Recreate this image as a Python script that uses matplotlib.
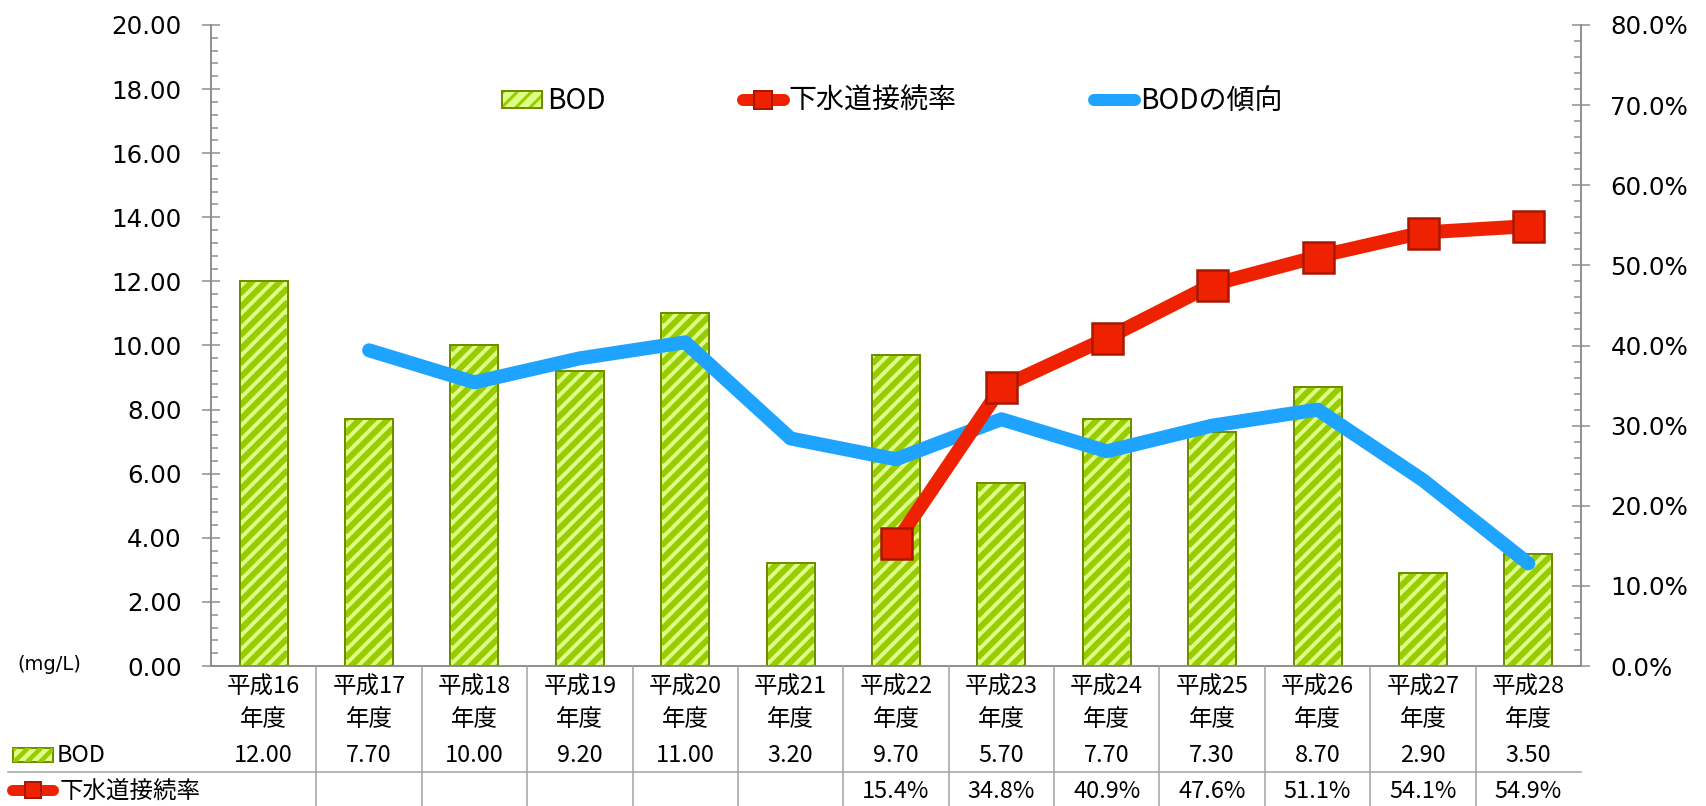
#!/usr/bin/env python3
"""BOD and sewer connection rate chart with data table."""

import matplotlib
matplotlib.use("Agg")
import numpy as np
import matplotlib.pyplot as plt
from matplotlib.patches import Rectangle, Patch
from matplotlib.lines import Line2D
from matplotlib.collections import LineCollection
from matplotlib.legend_handler import HandlerTuple
from matplotlib.ticker import MultipleLocator, FuncFormatter
from matplotlib.transforms import blended_transform_factory, IdentityTransform

years = ["平成16", "平成17", "平成18", "平成19", "平成20", "平成21", "平成22",
         "平成23", "平成24", "平成25", "平成26", "平成27", "平成28"]
bod = [12.00, 7.70, 10.00, 9.20, 11.00, 3.20, 9.70, 5.70, 7.70, 7.30, 8.70, 2.90, 3.50]
# sewer connection rate, only reported from 平成22
rate_years = ["平成22", "平成23", "平成24", "平成25", "平成26", "平成27", "平成28"]
rate = [15.4, 34.8, 40.9, 47.6, 51.1, 54.1, 54.9]
# BOD trend line (starts at 平成17)
trend_years = years[1:]
trend = [9.85, 8.85, 9.60, 10.10, 7.10, 6.45, 7.70, 6.70, 7.50, 8.00, 5.80, 3.20]

W, H, DPI = 1706, 806, 85
P = 72 / DPI  # points per pixel

plt.rcParams['font.family'] = ['DejaVu Sans', 'Noto Sans CJK JP']
JP = ['Noto Sans CJK JP', 'DejaVu Sans']

FACE = "#DDFF88"
STRIPE = "#99CC00"
EDGE = "#6E8E00"
RED = "#EE2200"
RED_EDGE = "#A81800"
BLUE = "#1EA4FF"
GREY = "#8C8C8C"


def fx(px):
    return px / W


def fy(py):
    return 1 - py / H


def stripes(patch, step=14, lw=6):
    """Diagonal stripes drawn in pixel space (clip to the patch after adding)."""
    bb = patch.get_window_extent()
    c0 = bb.y0 - bb.x1 - step
    c1 = bb.y1 - bb.x0 + step
    segs = [[(bb.x0, bb.x0 + c), (bb.x1, bb.x1 + c)] for c in np.arange(c0, c1, step)]
    return LineCollection(segs, colors=STRIPE, linewidths=lw * P,
                          transform=IdentityTransform(), zorder=patch.get_zorder() + 0.1)


fig = plt.figure(figsize=(W / DPI, H / DPI), dpi=DPI)
ax = fig.add_axes([fx(211), fy(666), fx(1581) - fx(211), fy(25) - fy(666)])
ax2 = ax.twinx()

x = list(range(len(years)))
idx = {y: i for i, y in enumerate(years)}

ax.set_xlim(-0.5, len(years) - 0.5)
ax.set_ylim(0, 20)
ax2.set_ylim(0, 0.8)

bars = ax.bar(x, bod, width=0.455, color=FACE, linewidth=0, zorder=2)
for b in bars:
    lc = stripes(b)
    ax.add_collection(lc, autolim=False)
    lc.set_transform(IdentityTransform())
    lc.set_clip_path(b)
ax.bar(x, bod, width=0.455, fill=False, edgecolor=EDGE, linewidth=2 * P, zorder=3)

ax.plot([idx[y] for y in trend_years], trend, color=BLUE, linewidth=14 * P,
        solid_capstyle="round", solid_joinstyle="round", zorder=4)

ax2.plot([idx[y] for y in rate_years], [r / 100 for r in rate], color=RED,
         linewidth=14 * P, solid_capstyle="round", marker="s", markersize=31 * P,
         markerfacecolor=RED, markeredgecolor=RED_EDGE, markeredgewidth=2.5 * P)

ax.yaxis.set_major_locator(MultipleLocator(2))
ax.yaxis.set_minor_locator(MultipleLocator(0.4))
ax.yaxis.set_major_formatter(FuncFormatter(lambda v, _: f"{v:.2f}"))
ax2.yaxis.set_major_locator(MultipleLocator(0.1))
ax2.yaxis.set_minor_locator(MultipleLocator(0.02))
ax2.yaxis.set_major_formatter(FuncFormatter(lambda v, _: f"{v * 100:.1f}%"))

for a in (ax, ax2):
    a.tick_params(axis="y", which="major", direction="inout", length=16, width=1.5 * P,
                  color=GREY, labelsize=24.5 * P, pad=20 * P)
    a.tick_params(axis="y", which="minor", direction="in", length=6, width=1.5 * P, color=GREY)
    a.tick_params(axis="x", which="both", bottom=False, labelbottom=False)
    a.spines["top"].set_visible(False)
    for s in ("left", "right", "bottom"):
        a.spines[s].set_color(GREY)
        a.spines[s].set_linewidth(1.5 * P)

fig.text(fx(17), fy(665), "(mg/L)", ha="left", va="center", fontsize=19.5 * P)

# legend
plt.rcParams['hatch.color'] = STRIPE
plt.rcParams['hatch.linewidth'] = 3 * P
bod_handle = (Patch(facecolor=FACE, hatch="//", linewidth=0),
              Patch(fill=False, edgecolor=EDGE, linewidth=2 * P))
rate_handle = Line2D([], [], color=RED, linewidth=12 * P, solid_capstyle="round",
                     marker="s", markersize=18 * P, markerfacecolor=RED,
                     markeredgecolor=RED_EDGE, markeredgewidth=2 * P)
trend_handle = Line2D([], [], color=BLUE, linewidth=12 * P, solid_capstyle="round")
fig.legend([bod_handle, rate_handle, trend_handle], ["BOD", "下水道接続率", "BODの傾向"],
           handler_map={tuple: HandlerTuple(ndivide=1)},
           loc="center", bbox_to_anchor=(fx(892), fy(101)), ncol=3, frameon=False,
           prop={"family": JP, "size": 28 * P}, handlelength=1.45, handleheight=0.55,
           handletextpad=0.18, columnspacing=4.9)

# data table under the axis
tr = blended_transform_factory(ax.transData, fig.transFigure)
tsize = 23.5 * P
for i, y in enumerate(years):
    ax.text(i, fy(687), y, transform=tr, ha="center", va="center", fontsize=tsize, family=JP)
    ax.text(i, fy(719), "年度", transform=tr, ha="center", va="center", fontsize=tsize, family=JP)
    ax.text(i, fy(755), f"{bod[i]:.2f}", transform=tr, ha="center", va="center",
            fontsize=tsize, family=JP)
for y, r in zip(rate_years, rate):
    ax.text(idx[y], fy(792), f"{r:.1f}%", transform=tr, ha="center", va="center",
            fontsize=tsize, family=JP)

for k in range(1, len(years)):
    fig.add_artist(Line2D([k - 0.5, k - 0.5], [fy(666), 0], transform=tr,
                          color="#A0A0A0", linewidth=1.5 * P))
fig.add_artist(Line2D([fx(8), fx(1581)], [fy(772), fy(772)], transform=fig.transFigure,
                      color="#A0A0A0", linewidth=1.5 * P))

# row headers
key = Rectangle((fx(13), fy(762)), fx(40), fy(0) - fy(14), transform=fig.transFigure,
                facecolor=FACE, linewidth=0)
fig.add_artist(key)
key_lc = stripes(key, step=13, lw=4.5)
fig.add_artist(key_lc)
key_lc.set_clip_path(key)
fig.add_artist(Rectangle((fx(13), fy(762)), fx(40), fy(0) - fy(14), transform=fig.transFigure,
                         fill=False, edgecolor=EDGE, linewidth=2 * P))
fig.text(fx(57), fy(755), "BOD", ha="left", va="center", fontsize=tsize, family=JP)
fig.add_artist(Line2D([fx(12), fx(32.5), fx(53)], [fy(790)] * 3, transform=fig.transFigure,
                      color=RED, linewidth=11 * P, solid_capstyle="round", marker="s",
                      markevery=[1], markersize=16 * P, markerfacecolor=RED,
                      markeredgecolor=RED_EDGE, markeredgewidth=2 * P))
fig.text(fx(60), fy(792), "下水道接続率", ha="left", va="center", fontsize=tsize, family=JP)

fig.savefig("out.png", dpi=DPI)
